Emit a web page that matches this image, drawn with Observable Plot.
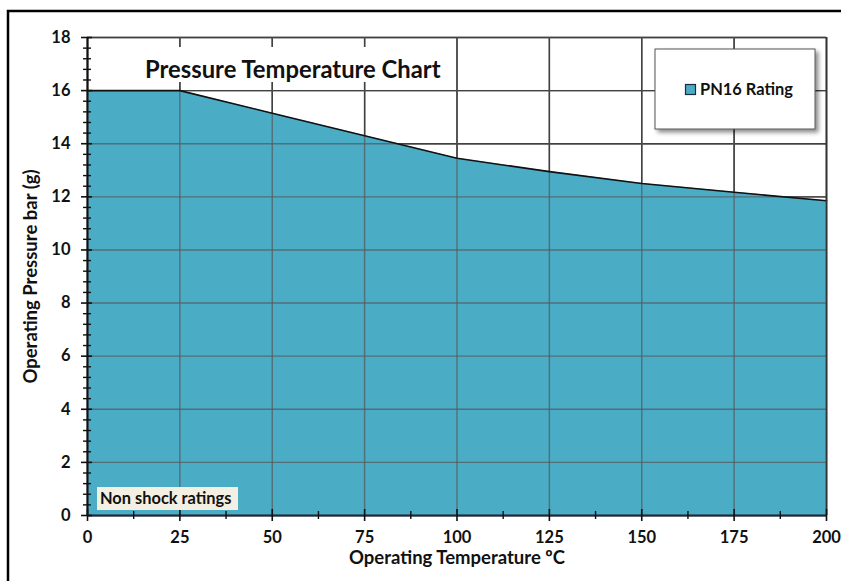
<!DOCTYPE html>
<html>
<head>
<meta charset="utf-8">
<script src="https://cdn.jsdelivr.net/npm/d3@7"></script>
<script src="https://cdn.jsdelivr.net/npm/@observablehq/plot@0.6"></script>
<style>
  html, body { margin: 0; padding: 0; background: #fff; }
  svg text { font-weight: bold; }
</style>
</head>
<body>
<div id="chart"></div>
<script>
// ---- data ----
const temperatures = [0, 25, 50, 75, 100, 125, 150, 175, 200];
const pressures    = [16, 16, 15.15, 14.3, 13.45, 12.95, 12.5, 12.17, 11.85];
const xTicks = [0, 25, 50, 75, 100, 125, 150, 175, 200];
const yTicks = [0, 2, 4, 6, 8, 10, 12, 14, 16, 18];
const xMinor = [12.5, 37.5, 62.5, 87.5, 112.5, 137.5, 162.5, 187.5];
const yMinor = d3.range(0, 18.001, 0.4).filter(v => Math.abs(v / 2 - Math.round(v / 2)) > 1e-6);
const seriesName = "PN16 Rating";
const titleText = "Pressure Temperature Chart";
const noteText = "Non shock ratings";
const xLabel = "Operating Temperature ºC";
const yLabel = "Operating Pressure bar (g)";

const rows = temperatures.map((t, i) => ({t, p: pressures[i]}));
const fillColor = "#4BACC6";
const font = "Lato, 'Open Sans', sans-serif";

const chart = Plot.plot({
  width: 841,
  height: 581,
  marginLeft: 87,
  marginRight: 15,
  marginTop: 37,
  marginBottom: 66,
  style: {fontFamily: font, fontSize: "16px", color: "#111", background: "#fff"},
  x: {domain: [0, 200], axis: null},
  y: {domain: [0, 18], axis: null},
  marks: [
    // grid (black, visible in white area)
    Plot.ruleX(xTicks, {stroke: "#111", strokeWidth: 1.4}),
    Plot.ruleY(yTicks, {stroke: "#111", strokeWidth: 1.4}),
    // area
    Plot.areaY(rows, {x: "t", y: "p", fill: fillColor}),
    // grid seen through fill
    Plot.ruleX(xTicks, {y1: 0, y2: 18, stroke: "#555", strokeOpacity: 0.7, strokeWidth: 1.4}),
    Plot.ruleY(yTicks, {stroke: "#555", strokeOpacity: 0.7, strokeWidth: 1.4}),
    // outline
    Plot.lineY(rows, {x: "t", y: "p", stroke: "#111", strokeWidth: 1.6}),
    // axes lines
    Plot.ruleX([0], {stroke: "#111", strokeWidth: 2}),
    Plot.ruleY([0], {stroke: "#1c2a40", strokeWidth: 2.2}),
    Plot.ruleX([200], {stroke: "#333", strokeWidth: 1.6}),
    // crossing ticks
    Plot.ruleY(yTicks, {y: d => d, x1: 0, x2: 0, insetLeft: -6, insetRight: -5, stroke: "#111", strokeWidth: 1.6}),
    Plot.ruleY(yMinor, {y: d => d, x1: 0, x2: 0, insetLeft: -4, insetRight: -4, stroke: "#111", strokeWidth: 1.4}),
    Plot.ruleX(xTicks, {x: d => d, y1: 0, y2: 0, insetTop: -6, insetBottom: -6, stroke: "#111", strokeWidth: 1.6}),
    Plot.ruleX(xMinor, {x: d => d, y1: 0, y2: 0, insetTop: -4, insetBottom: -4, stroke: "#111", strokeWidth: 1.4}),
    // tick labels
    Plot.text(xTicks, {x: d => d, frameAnchor: "bottom", dy: 22, lineAnchor: "middle", textAnchor: "middle", text: d => String(d), fill: "#111", fontSize: 16.5}),
    Plot.text(yTicks, {y: d => d, frameAnchor: "left", dx: -17, lineAnchor: "middle", textAnchor: "end", text: d => String(d), fill: "#111", fontSize: 16.5}),
    // axis titles
    Plot.text([xLabel], {frameAnchor: "bottom", dy: 43, lineAnchor: "middle", textAnchor: "middle", text: d => d, fill: "#111", fontSize: 18.5}),
    Plot.text([yLabel], {frameAnchor: "left", dx: -56, rotate: -90, lineAnchor: "middle", textAnchor: "middle", text: d => d, fill: "#111", fontSize: 18.5})
  ]
});

const svg = d3.select(chart);

// outer frame (top and left edges)
svg.append("path").attr("d", "M8,581 L8,11 L841,11").attr("fill", "none").attr("stroke", "#000").attr("stroke-width", 2.5);

// title with white box
svg.append("rect").attr("x", 135).attr("y", 47).attr("width", 313).attr("height", 35).attr("fill", "#fff");
svg.append("text").attr("x", 145).attr("y", 70).attr("dy", "0.35em").attr("text-anchor", "start")
  .attr("font-family", font).attr("font-size", 23.8).attr("fill", "#111").text(titleText);

// legend with shadow
const defs = svg.append("defs");
const f = defs.append("filter").attr("id", "shadow").attr("x", "-10%").attr("y", "-10%").attr("width", "130%").attr("height", "140%");
f.append("feDropShadow").attr("dx", 3).attr("dy", 3).attr("stdDeviation", 2).attr("flood-color", "#000").attr("flood-opacity", 0.45);
svg.append("rect").attr("x", 655).attr("y", 49).attr("width", 160).attr("height", 80)
  .attr("fill", "#fff").attr("stroke", "#555").attr("stroke-width", 1).attr("filter", "url(#shadow)");
svg.append("rect").attr("x", 685.5).attr("y", 84.5).attr("width", 10).attr("height", 10)
  .attr("fill", fillColor).attr("stroke", "#1c2a40").attr("stroke-width", 1.2);
svg.append("text").attr("x", 700).attr("y", 89.5).attr("dy", "0.35em").attr("text-anchor", "start")
  .attr("font-family", font).attr("font-size", 16.4).attr("fill", "#111").text(seriesName);

// note label
svg.append("rect").attr("x", 97).attr("y", 487).attr("width", 141).attr("height", 23).attr("fill", "#F3F0E3");
svg.append("text").attr("x", 100).attr("y", 498.5).attr("dy", "0.35em").attr("text-anchor", "start")
  .attr("font-family", font).attr("font-size", 16.4).attr("fill", "#111").text(noteText);

document.getElementById("chart").appendChild(chart);
</script>
</body>
</html>
